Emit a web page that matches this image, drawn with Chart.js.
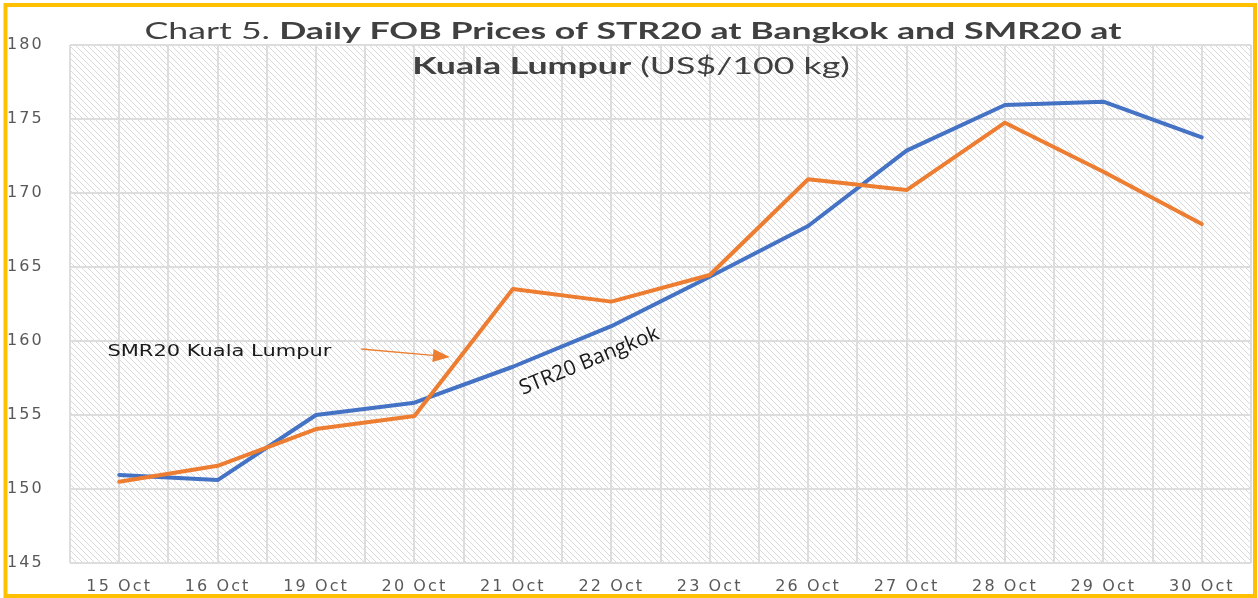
<!DOCTYPE html>
<html>
<head>
<meta charset="utf-8">
<script src="https://cdn.jsdelivr.net/npm/chart.js@4/dist/chart.umd.min.js"></script>
<style>
html,body{margin:0;padding:0;background:#fff;}
#wrap{position:relative;width:1258px;height:598px;}
</style>
</head>
<body>
<div id="wrap"><canvas id="c"></canvas></div>
<script>
// ---- data ----
const categories = ['15 Oct','16 Oct','19 Oct','20 Oct','21 Oct','22 Oct','23 Oct','26 Oct','27 Oct','28 Oct','29 Oct','30 Oct'];
const str20Bangkok = [150.95,150.6,155.0,155.83,158.26,161.0,164.34,167.77,172.86,175.95,176.17,173.76];
const smr20KualaLumpur = [150.49,151.57,154.05,154.93,163.51,162.66,164.46,170.93,170.2,174.75,171.44,167.9];
const yMin = 145, yMax = 180, yStep = 5;
const titleLine1 = [['Chart 5. ', false], ['Daily FOB Prices of STR20 at Bangkok and SMR20 at', true]];
const titleLine2 = [['Kuala Lumpur', true], [' (US$/100 kg)', false]];
const labelSMR = 'SMR20 Kuala Lumpur';
const labelSTR = 'STR20 Bangkok';

// ---- styles ----
const BLUE = '#4472C4', ORANGE = '#ED7D31', GRID = '#dddddd', TICK = '#595959';
const TICK_FONT = {family: 'DejaVu Sans', size: 16};

function makePattern(ctx){
  const s = 6;
  const c = document.createElement('canvas');
  c.width = s; c.height = s;
  const g = c.getContext('2d');
  g.fillStyle = '#ffffff'; g.fillRect(0,0,s,s);
  g.strokeStyle = '#d9d9d9'; g.lineWidth = 1;
  for (const x0 of [-s, 0, s]) {
    g.beginPath(); g.moveTo(x0, 0); g.lineTo(x0 + s, s); g.stroke();
  }
  return ctx.createPattern(c, 'repeat');
}

function drawSegments(ctx, segs, cx, baseline, size, sx){
  const fam = 'Lato, "Open Sans", sans-serif';
  let w = 0;
  const widths = segs.map(([t,b]) => { ctx.font = (b?'bold ':'') + size + 'px ' + fam; const m = ctx.measureText(t).width; w += m; return m; });
  ctx.save();
  ctx.translate(cx, baseline);
  ctx.scale(sx, 1);
  ctx.textBaseline = 'alphabetic';
  ctx.textAlign = 'left';
  let x = -w/2;
  segs.forEach(([t,b], i) => {
    ctx.font = (b?'bold ':'') + size + 'px ' + fam;
    ctx.fillText(t, x, 0);
    x += widths[i];
  });
  ctx.restore();
  return w;
}

const decor = {
  id: 'decor',
  beforeDraw(chart){
    const {ctx, chartArea: a} = chart;
    ctx.save();
    ctx.fillStyle = makePattern(ctx);
    ctx.fillRect(a.left, a.top, a.right - a.left, a.bottom - a.top);
    ctx.restore();
    ctx.letterSpacing = '2.1px';
  },
  beforeDatasetsDraw(chart){
    const {ctx, chartArea: a, scales: {x}} = chart;
    ctx.letterSpacing = '0px';
    ctx.save();
    ctx.strokeStyle = GRID; ctx.lineWidth = 2;
    for (let i = 0; i < categories.length; i++) {
      const px = Math.round(x.getPixelForTick(i));
      ctx.beginPath(); ctx.moveTo(px, a.top); ctx.lineTo(px, a.bottom); ctx.stroke();
    }
    ctx.restore();
  },
  afterDraw(chart){
    const {ctx, scales: {x, y}} = chart;
    ctx.letterSpacing = '0px';
    const step = x.getPixelForTick(1) - x.getPixelForTick(0);
    const xAt = (idx) => x.getPixelForTick(0) + idx * step;

    // title
    ctx.fillStyle = '#404040';
    const size = 23;
    const fam = 'Lato, "Open Sans", sans-serif';
    let w1 = 0;
    titleLine1.forEach(([t,b]) => { ctx.font = (b?'bold ':'') + size + 'px ' + fam; w1 += ctx.measureText(t).width; });
    const sx = 977 / w1;
    drawSegments(ctx, titleLine1, 633, 38.5, size, sx);
    drawSegments(ctx, titleLine2, 631, 73.5, size, sx);

    // SMR20 label
    ctx.save();
    ctx.fillStyle = '#1a1a1a';
    ctx.font = '15px "DejaVu Sans"';
    ctx.textBaseline = 'middle';
    const lx = xAt(-0.12), ly = y.getPixelForValue(159.26);
    ctx.translate(lx, ly);
    ctx.scale(1.4, 1);
    ctx.fillText(labelSMR, 0, 0);
    ctx.restore();

    // arrow
    const ax0 = xAt(2.46), ay0 = y.getPixelForValue(159.46);
    const ax1 = xAt(3.36), ay1 = y.getPixelForValue(158.92);
    const ang = Math.atan2(ay1 - ay0, ax1 - ax0);
    const hl = 17, hw = 6.5;
    ctx.save();
    ctx.strokeStyle = ORANGE; ctx.fillStyle = ORANGE; ctx.lineWidth = 1.3;
    ctx.beginPath(); ctx.moveTo(ax0, ay0);
    ctx.lineTo(ax1 - hl * Math.cos(ang), ay1 - hl * Math.sin(ang)); ctx.stroke();
    ctx.beginPath();
    ctx.moveTo(ax1, ay1);
    ctx.lineTo(ax1 - hl*Math.cos(ang) + hw*Math.sin(ang), ay1 - hl*Math.sin(ang) - hw*Math.cos(ang));
    ctx.lineTo(ax1 - hl*Math.cos(ang) - hw*Math.sin(ang), ay1 - hl*Math.sin(ang) + hw*Math.cos(ang));
    ctx.closePath(); ctx.fill();
    ctx.restore();

    // STR20 label (rotated, upright glyphs)
    ctx.save();
    ctx.fillStyle = '#1a1a1a';
    ctx.font = '19px "Open Sans", Lato, sans-serif';
    const tw = ctx.measureText(labelSTR).width;
    const fs = 19 * 149 / tw;
    ctx.font = fs.toFixed(1) + 'px "Open Sans", Lato, sans-serif';
    ctx.translate(xAt(4.10), y.getPixelForValue(156.35));
    ctx.rotate(-22.4 * Math.PI / 180);
    ctx.textBaseline = 'alphabetic';
    ctx.fillText(labelSTR, 0, 0);
    ctx.restore();

    // border
    ctx.save();
    ctx.strokeStyle = '#FFC000'; ctx.lineWidth = 4;
    ctx.strokeRect(5.5, 5, 1249.5, 591);
    ctx.restore();
  }
};

new Chart(document.getElementById('c'), {
  type: 'line',
  data: {
    labels: categories,
    datasets: [
      {label: 'STR20 Bangkok', data: str20Bangkok, borderColor: BLUE, backgroundColor: BLUE, borderWidth: 4, pointRadius: 0, tension: 0, borderCapStyle: 'round', borderJoinStyle: 'round', order: 2},
      {label: 'SMR20 Kuala Lumpur', data: smr20KualaLumpur, borderColor: ORANGE, backgroundColor: ORANGE, borderWidth: 4, pointRadius: 0, tension: 0, borderCapStyle: 'round', borderJoinStyle: 'round', order: 1}
    ]
  },
  options: {
    responsive: true,
    maintainAspectRatio: false,
    animation: false,
    layout: {padding: {left: 7, top: 45, right: 7, bottom: 4}},
    plugins: {legend: {display: false}, title: {display: false}, tooltip: {enabled: false}},
    scales: {
      x: {
        offset: true,
        grid: {offset: true, color: GRID, lineWidth: 2, drawTicks: false},
        border: {display: false},
        ticks: {font: TICK_FONT, color: TICK, padding: 14, maxRotation: 0, autoSkip: false},
        afterFit(s){ s.height = 31; }
      },
      y: {
        min: yMin, max: yMax,
        grid: {color: GRID, lineWidth: 2, drawTicks: false},
        border: {display: false},
        ticks: {stepSize: yStep, font: TICK_FONT, color: TICK, crossAlign: 'far', padding: 8},
        afterFit(s){ s.width = 63; }
      }
    }
  },
  plugins: [decor]
});
</script>
</body>
</html>
